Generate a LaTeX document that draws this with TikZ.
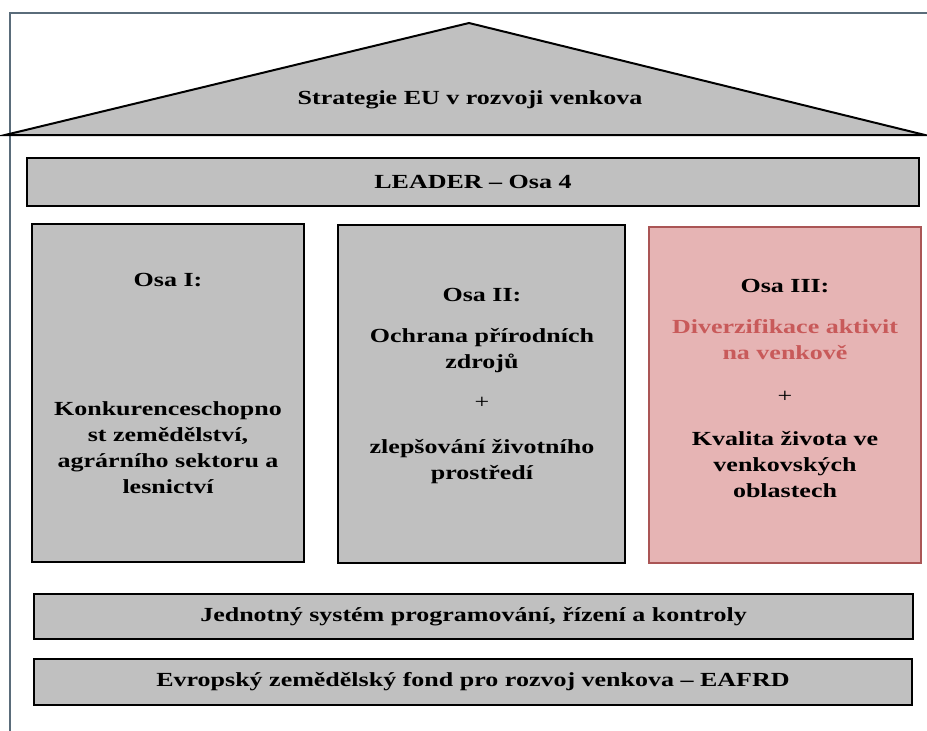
\documentclass[tikz,border=0pt]{standalone}
\usepackage{fontspec}
\setmainfont[FakeStretch=1.3]{Liberation Serif}
\usepackage{tikz}

\begin{document}
\begin{tikzpicture}[x=1pt,y=-1pt,
  txt/.style={font=\fontsize{20}{26}\selectfont\bfseries,align=center},
  greybox/.style={line width=2.5pt,fill=pillar},
  ]
% Define colours
\definecolor{pillar}{RGB}{192,192,192}
\definecolor{osafill}{RGB}{230,180,180}
\definecolor{osaline}{RGB}{170,85,85}
\definecolor{osatext}{RGB}{200,90,90}
\definecolor{framecol}{RGB}{90,108,122}

\useasboundingbox (0,0) rectangle (927,731);

% Outer frame
\draw[framecol,line width=2.5pt] (10,735) -- (10,13) -- (930,13);

% Roof
\draw[line width=2pt,fill=pillar,line join=miter] (5,135) -- (469,23) -- (925,135) -- cycle;
\node[txt] (roof) at (470,100) {Strategie EU v rozvoji venkova};

% Top bar
\draw[greybox] (27,158) rectangle (919,206) node[midway,txt] (leader) {LEADER – Osa 4};

% Pillars
\draw[greybox] (32,224) rectangle (304,562);
\draw[greybox] (338,225) rectangle (625,563);
\draw[line width=2pt,draw=osaline,fill=osafill] (649,227) rectangle (921,563);

% Osa I
\node[txt] (osa1) at (168,280) {Osa I:};
\node[txt] (osa1text) at (168,448) {Konkurenceschopno\\st zemědělství,\\agrárního sektoru a\\lesnictví};

% Osa II
\node[txt] (osa2) at (482,295) {Osa II:};
\node[txt] (osa2a) at (482,351) {Ochrana přírodních\\zdrojů};
\node[txt,font=\fontsize{20}{26}\selectfont] (osa2plus) at (482,403) {+};
\node[txt] (osa2b) at (482,462) {zlepšování životního\\prostředí};

% Osa III
\node[txt] (osa3) at (785,286) {Osa III:};
\node[txt,text=osatext] (osa3a) at (785,340) {Diverzifikace aktivit\\na venkově};
\node[txt,font=\fontsize{20}{26}\selectfont] (osa3plus) at (785,397) {+};
\node[txt] (osa3b) at (785,465) {Kvalita života ve\\venkovských\\oblastech};

% Bottom bars
\draw[greybox] (34,594) rectangle (913,639) node[midway,txt] (system) {Jednotný systém programování, řízení a kontroly};
\draw[greybox] (34,659) rectangle (912,705) node[midway,txt] (fund) {Evropský zemědělský fond pro rozvoj venkova – EAFRD};
\end{tikzpicture}
\end{document}
